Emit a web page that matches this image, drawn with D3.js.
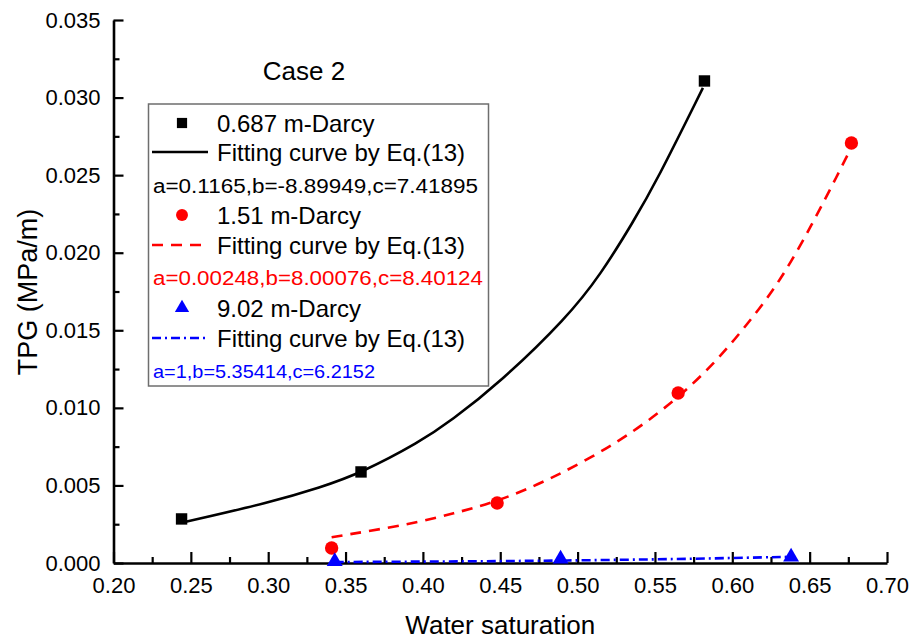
<!DOCTYPE html>
<html>
<head>
<meta charset="utf-8">
<script src="https://cdn.jsdelivr.net/npm/d3@7"></script>
<style>
  html, body { margin: 0; padding: 0; background: #fff; }
  svg { display: block; font-family: "Liberation Sans", Arial, sans-serif; }
</style>
</head>
<body>
<svg id="chart" width="912" height="642"></svg>
<script>
// ---------- data ----------
const xTicks = [0.20, 0.25, 0.30, 0.35, 0.40, 0.45, 0.50, 0.55, 0.60, 0.65, 0.70];
const yTicks = [0.000, 0.005, 0.010, 0.015, 0.020, 0.025, 0.030, 0.035];

// measured points
const swK1 = [0.244, 0.360, 0.582];
const tpgK1 = [0.00284, 0.00587, 0.03107];
const swK2 = [0.341, 0.448, 0.565, 0.677];
const tpgK2 = [0.00097, 0.00387, 0.01096, 0.02707];
const swK3 = [0.343, 0.489, 0.638];
const tpgK3 = [0.00010, 0.00026, 0.00039];

// fitting curves
const fitSwK1 = [0.246, 0.301, 0.334, 0.360, 0.398, 0.418, 0.450, 0.493, 0.515, 0.536, 0.551, 0.581];
const fitTpgK1 = [0.00264, 0.00390, 0.00488, 0.00580, 0.00780, 0.00915, 0.01165, 0.01580, 0.01860, 0.02200, 0.02460, 0.03062];
const fitSwK2 = [0.341, 0.392, 0.420, 0.448, 0.484, 0.528, 0.562, 0.588, 0.610, 0.631, 0.652, 0.668, 0.678];
const fitTpgK2 = [0.00166, 0.00250, 0.00320, 0.00395, 0.00545, 0.00785, 0.01038, 0.01280, 0.01542, 0.01815, 0.02190, 0.02500, 0.02700];
const fitSwK3 = [0.343, 0.400, 0.450, 0.490, 0.550, 0.600, 0.638];
const fitTpgK3 = [0.00006, 0.00009, 0.00012, 0.00016, 0.00023, 0.00032, 0.00040];

const seriesNames = ["0.687 m-Darcy", "1.51 m-Darcy", "9.02 m-Darcy"];
const fitLabel = "Fitting curve by Eq.(13)";
const paramLabels = ["a=0.1165,b=-8.89949,c=7.41895", "a=0.00248,b=8.00076,c=8.40124", "a=1,b=5.35414,c=6.2152"];
const seriesColors = ["#000000", "#ff0000", "#0000ff"];

// ---------- layout ----------
const svg = d3.select("#chart");
const L = 113.5, R = 887, T = 20, B = 563;
const x = d3.scaleLinear().domain([0.2, 0.7]).range([L, R]);
const y = d3.scaleLinear().domain([0, 0.035]).range([B, T]);

// axes
const xMinor = d3.range(0, 10).map(i => 0.225 + i * 0.05);
const yMinor = d3.range(0, 7).map(i => 0.0025 + i * 0.005);

const gx = svg.append("g").attr("transform", `translate(0,${B})`)
  .call(d3.axisBottom(x).tickValues(xTicks).tickFormat(d3.format(".2f"))
    .tickSizeInner(-11).tickSizeOuter(0).tickPadding(14));
const gxm = svg.append("g").attr("transform", `translate(0,${B})`)
  .call(d3.axisBottom(x).tickValues(xMinor).tickFormat("").tickSizeInner(-6).tickSizeOuter(0));
const gy = svg.append("g").attr("transform", `translate(${L},0)`)
  .call(d3.axisLeft(y).tickValues(yTicks).tickFormat(d3.format(".3f"))
    .tickSizeInner(-10).tickSizeOuter(0).tickPadding(13));
const gym = svg.append("g").attr("transform", `translate(${L},0)`)
  .call(d3.axisLeft(y).tickValues(yMinor).tickFormat("").tickSizeInner(-6).tickSizeOuter(0));

[gx, gxm, gy, gym].forEach(g => {
  g.select(".domain").attr("stroke", "#000").attr("stroke-width", 2.6);
  g.selectAll(".tick line").attr("stroke", "#000").attr("stroke-width", 2.2);
  g.selectAll("text").attr("font-size", 22).attr("fill", "#000")
    .attr("font-family", "'Liberation Sans', Arial, sans-serif");
});
gxm.select(".domain").remove();
gym.select(".domain").remove();

// axis titles
svg.append("text").attr("x", (L + R) / 2).attr("y", 634)
  .attr("text-anchor", "middle").attr("font-size", 26).text("Water saturation");
svg.append("text").attr("transform", "translate(37,292) rotate(-90)")
  .attr("text-anchor", "middle").attr("font-size", 27).text("TPG (MPa/m)");

svg.append("text").attr("x", 304).attr("y", 80).attr("text-anchor", "middle")
  .attr("font-size", 26).text("Case 2");

// ---------- curves ----------
const line = d3.line().x(d => x(d[0])).y(d => y(d[1])).curve(d3.curveBasis);
const fits = [
  { sw: fitSwK1, tpg: fitTpgK1, dash: null },
  { sw: fitSwK2, tpg: fitTpgK2, dash: "11,8" },
  { sw: fitSwK3, tpg: fitTpgK3, dash: "9,4,2,4" }
];
fits.forEach((f, i) => {
  svg.append("path").datum(d3.zip(f.sw, f.tpg))
    .attr("d", line).attr("fill", "none")
    .attr("stroke", seriesColors[i]).attr("stroke-width", 2.6)
    .attr("stroke-dasharray", f.dash);
});

// ---------- markers ----------
const symbols = [d3.symbolSquare, d3.symbolCircle, d3.symbolTriangle];
const symSizes = [130, 140, 110];
const pts = [[swK1, tpgK1], [swK2, tpgK2], [swK3, tpgK3]];
pts.forEach((p, i) => {
  svg.append("g").selectAll("path").data(d3.zip(p[0], p[1])).join("path")
    .attr("transform", d => `translate(${x(d[0])},${y(d[1])})`)
    .attr("d", d3.symbol().type(symbols[i]).size(symSizes[i]))
    .attr("fill", seriesColors[i]);
});

// ---------- legend ----------
const lg = svg.append("g");
lg.append("rect").attr("x", 148.5).attr("y", 104).attr("width", 340).attr("height", 282)
  .attr("fill", "#fff").attr("stroke", "#6e6e6e").attr("stroke-width", 1.5);
const rowY = [123, 152, 186, 215, 245, 278, 308, 338, 371];
seriesNames.forEach((name, i) => {
  const y0 = rowY[i * 3], y1 = rowY[i * 3 + 1], y2 = rowY[i * 3 + 2];
  lg.append("path").attr("transform", `translate(182,${y0})`)
    .attr("d", d3.symbol().type(symbols[i]).size(symSizes[i] * 0.8)).attr("fill", seriesColors[i]);
  lg.append("text").attr("x", 217).attr("y", y0).attr("dy", "0.36em")
    .attr("font-size", 24).text(name);
  lg.append("line").attr("x1", 152).attr("x2", 208).attr("y1", y1).attr("y2", y1)
    .attr("stroke", seriesColors[i]).attr("stroke-width", 2.6)
    .attr("stroke-dasharray", fits[i].dash);
  lg.append("text").attr("x", 217).attr("y", y1).attr("dy", "0.36em")
    .attr("font-size", 24).text(fitLabel);
  const pw = [325, 330, 222][i];
  lg.append("text").attr("x", 153).attr("y", y2).attr("dy", "0.36em")
    .attr("font-size", i === 2 ? 19 : 20).attr("fill", seriesColors[i])
    .attr("textLength", pw).attr("lengthAdjust", "spacingAndGlyphs").text(paramLabels[i]);
});
</script>
</body>
</html>
